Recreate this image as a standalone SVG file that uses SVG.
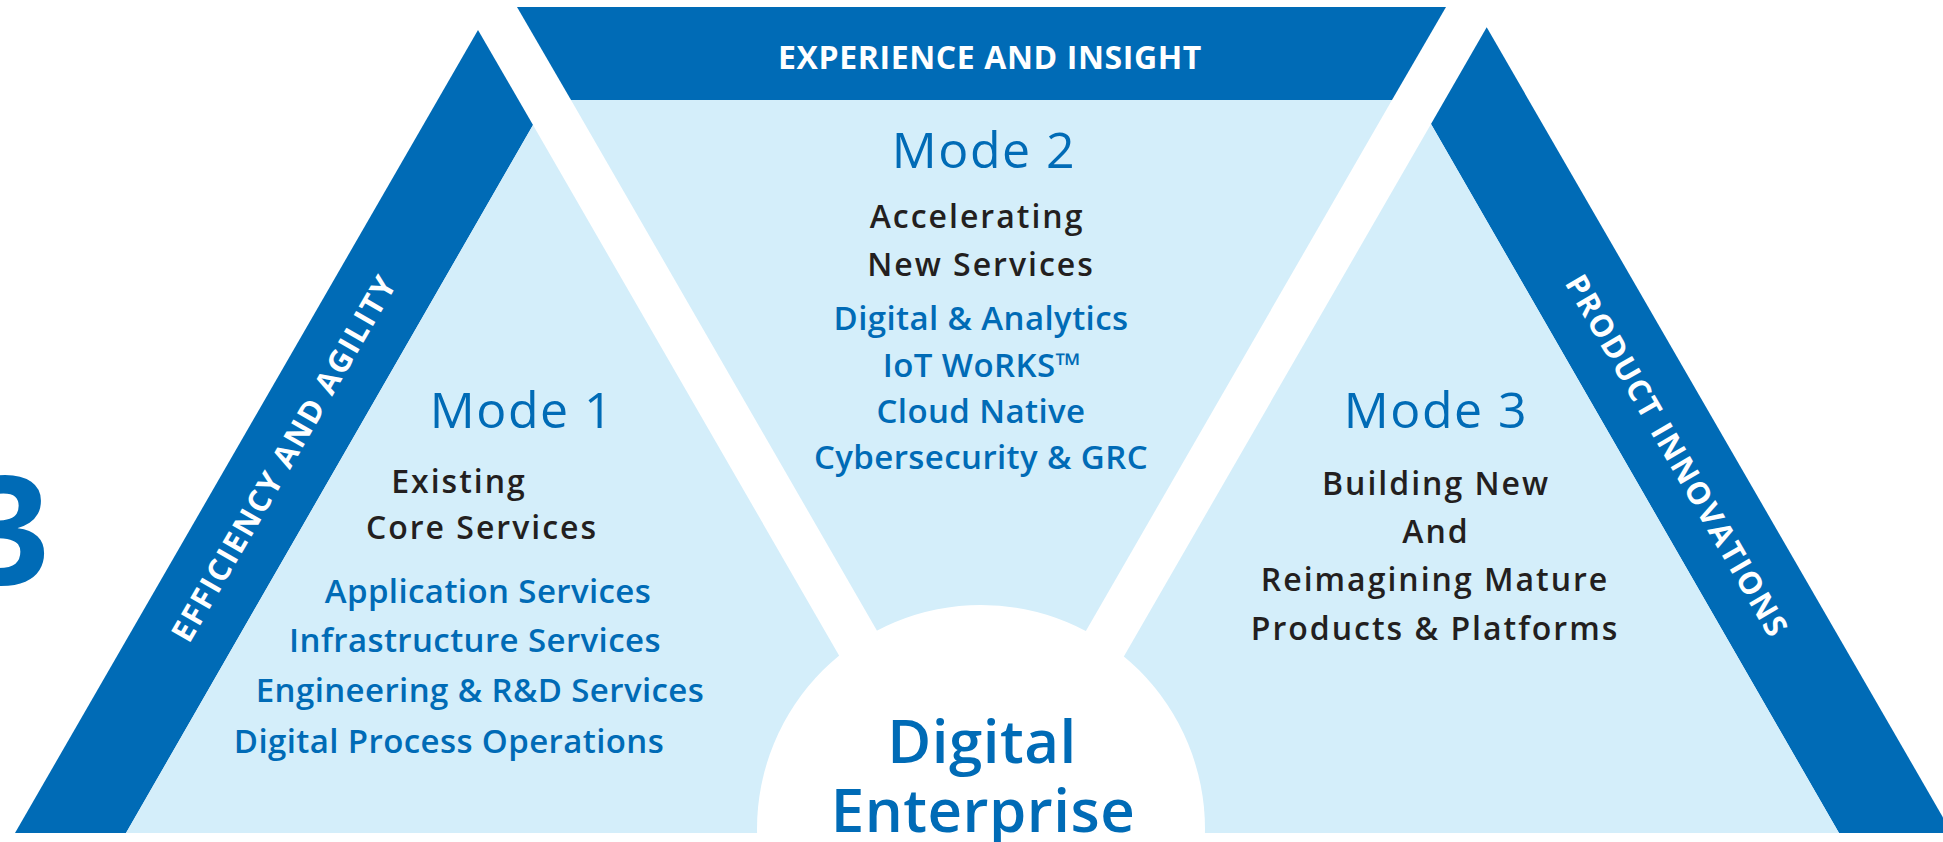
<svg xmlns="http://www.w3.org/2000/svg" width="1943" height="842" viewBox="0 0 1943 842">
<defs>
<style>
.dark{fill:#006BB6}
.light{fill:#D4EEFA}
.t{font-family:"Open Sans","Liberation Sans",sans-serif;text-anchor:middle}
.mode{font-size:50px;font-weight:400;fill:#006BB6;letter-spacing:1.5px}
.head{font-size:32px;font-weight:600;fill:#231F20;letter-spacing:2px}
.item{font-size:33px;font-weight:600;fill:#006BB6;letter-spacing:0.4px}
.band{font-size:31px;font-weight:700;fill:#FFFFFF;letter-spacing:1.8px}
.top{font-size:32px;font-weight:700;fill:#FFFFFF;letter-spacing:0.6px}
.center{font-size:60px;font-weight:600;fill:#006BB6;letter-spacing:0.5px}
</style>
</defs>
<rect x="0" y="0" width="1943" height="842" fill="#FFFFFF"/>
<g id="number-3">
<text class="t" x="50" y="585" style="font-size:150px;font-weight:700;fill:#006BB6;text-anchor:end">3</text>
</g>
<g id="mode1">
<polygon class="dark" points="478,30 533,125 126,833 15,833"/>
<polygon class="light" points="533,125 941.5,833 126,833"/>
<text class="t band" transform="translate(284,458) rotate(-60)" x="0" y="11">EFFICIENCY AND AGILITY</text>
<text class="t mode" x="522" y="428">Mode 1</text>
<text class="t head" x="459" y="493">Existing</text>
<text class="t head" x="482" y="539">Core Services</text>
<text class="t item" x="488" y="603">Application Services</text>
<text class="t item" x="475" y="652">Infrastructure Services</text>
<text class="t item" x="480" y="702">Engineering &amp; R&amp;D Services</text>
<text class="t item" x="449" y="753">Digital Process Operations</text>
</g>
<g id="mode2">
<polygon class="dark" points="517,7 1446,7 1392,100 571,100"/>
<polygon class="light" points="571,100 1392,100 981.5,812"/>
<text class="t top" x="990" y="69">EXPERIENCE AND INSIGHT</text>
<text class="t mode" x="984" y="168">Mode 2</text>
<text class="t head" x="977" y="228">Accelerating</text>
<text class="t head" x="981" y="276">New Services</text>
<text class="t item" x="981" y="330">Digital &amp; Analytics</text>
<text class="t item" x="982" y="377">IoT WoRKS™</text>
<text class="t item" x="981" y="423">Cloud Native</text>
<text class="t item" x="981" y="469">Cybersecurity &amp; GRC</text>
</g>
<g id="mode3">
<polygon class="dark" points="1486.7,27.3 1952,833 1839,833 1431,124"/>
<polygon class="light" points="1431,124 1839,833 1022,833"/>
<text class="t band" transform="translate(1677,456) rotate(60)" x="0" y="11">PRODUCT INNOVATIONS</text>
<text class="t mode" x="1436" y="428">Mode 3</text>
<text class="t head" x="1436" y="495">Building New</text>
<text class="t head" x="1436" y="543">And</text>
<text class="t head" x="1435" y="591">Reimagining Mature</text>
<text class="t head" x="1435" y="640">Products &amp; Platforms</text>
</g>
<g id="digital-enterprise">
<circle cx="981" cy="829" r="224" fill="#FFFFFF"/>
<rect x="740" y="833" width="490" height="9" fill="#FFFFFF"/>
<text class="t center" x="982" y="763">Digital</text>
<text class="t center" x="983" y="832">Enterprise</text>
</g>
<g id="connectors"/>
</svg>
